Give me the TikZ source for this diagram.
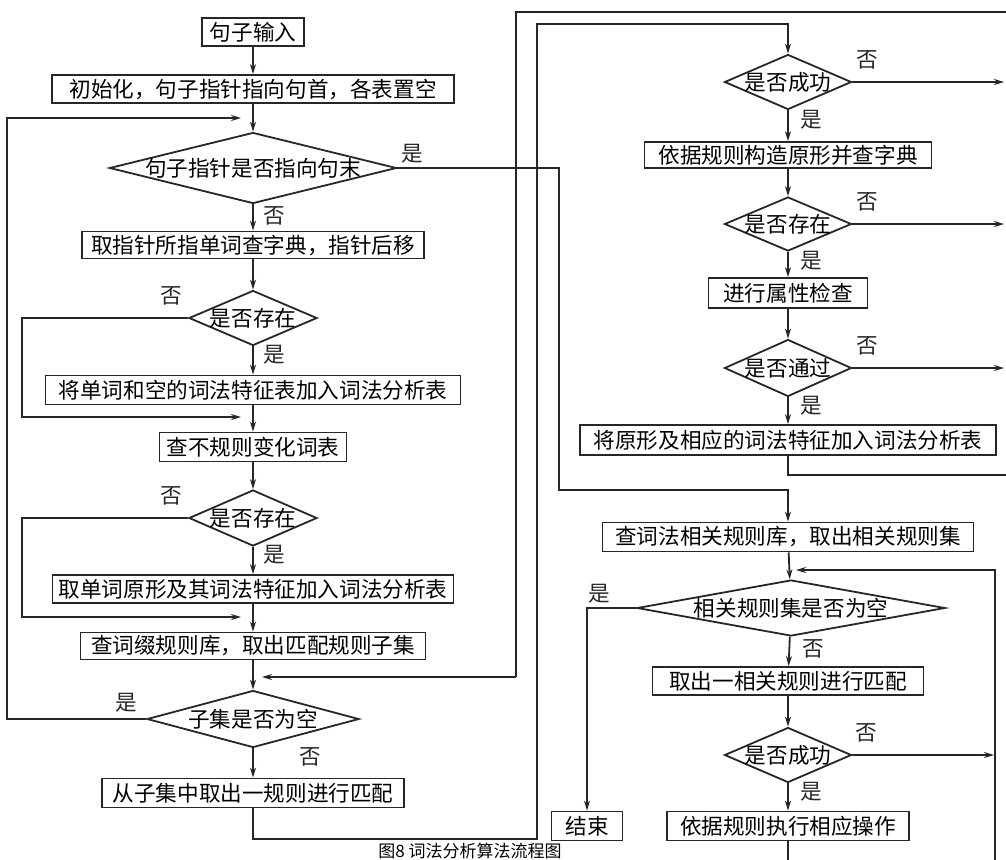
\documentclass[tikz,border=0pt]{standalone}
\usepackage{fontspec}
\setmainfont{Noto Sans CJK SC}
\usetikzlibrary{arrows.meta,shapes.geometric,calc}
\newcommand{\pxu}{0.5pt}
\newcommand{\cjksize}{\fontsize{10.8}{12}\selectfont}

\begin{document}
\begin{tikzpicture}[x=0.5pt,y=-0.5pt,
  box/.style={draw=black!85,line width=0.9pt,inner sep=0pt,minimum height=28*\pxu,font=\cjksize},
  dec/.style={draw=black!85,diamond,line width=0.9pt,inner sep=0pt,font=\cjksize},
  ar/.style={-{Stealth[length=5pt,width=3pt]},line width=0.9pt,black!85},
  ln/.style={line width=0.9pt,black!85},
  lab/.style={font=\cjksize,inner sep=1pt}]
  \useasboundingbox (0,0) rectangle (1006,859);
  \clip (0,0) rectangle (1006,859);
  % linke Spalte
  \node[box,minimum width=102*\pxu] (in) at (253,32) {句子输入};
  \node[box,minimum width=402*\pxu] (init) at (253,89) {初始化，句子指针指向句首，各表置空};
  \node[dec,minimum width=287*\pxu,minimum height=71*\pxu] (d1) at (253,168) {\makebox[0pt]{句子指针是否指向句末}};
  \node[box,minimum width=342*\pxu,minimum height=27*\pxu] (look) at (253,245) {取指针所指单词查字典，指针后移};
  \node[dec,minimum width=128*\pxu,minimum height=55*\pxu] (d2) at (253,318) {\makebox[0pt]{是否存在}};
  \node[box,minimum width=415*\pxu,minimum height=29*\pxu] (addw) at (253,390) {将单词和空的词法特征表加入词法分析表};
  \node[box,minimum width=187*\pxu,minimum height=29*\pxu] (irr) at (253,447) {查不规则变化词表};
  \node[dec,minimum width=128*\pxu,minimum height=56*\pxu] (d3) at (253,518) {\makebox[0pt]{是否存在}};
  \node[box,minimum width=401*\pxu] (addb) at (253,589) {取单词原形及其词法特征加入词法分析表};
  \node[box,minimum width=345*\pxu,minimum height=27*\pxu] (affix) at (253,646) {查词缀规则库，取出匹配规则子集};
  \node[dec,minimum width=212*\pxu,minimum height=57*\pxu] (d4) at (253,719) {\makebox[0pt]{子集是否为空}};
  \node[box,minimum width=302*\pxu,minimum height=29*\pxu] (take) at (253,793) {从子集中取出一规则进行匹配};
  % rechte Spalte
  \node[dec,minimum width=127*\pxu,minimum height=55*\pxu] (r1) at (788,82) {\makebox[0pt]{是否成功}};
  \node[box,minimum width=287*\pxu,minimum height=26*\pxu] (cons) at (788,155) {依据规则构造原形并查字典};
  \node[dec,minimum width=127*\pxu,minimum height=54*\pxu] (r2) at (788,224) {\makebox[0pt]{是否存在}};
  \node[box,minimum width=159*\pxu,minimum height=30*\pxu] (chk) at (788,293) {进行属性检查};
  \node[dec,minimum width=127*\pxu,minimum height=57*\pxu] (r3) at (788,368) {\makebox[0pt]{是否通过}};
  \node[box,minimum width=416*\pxu,minimum height=30*\pxu] (addr) at (788,440) {将原形及相应的词法特征加入词法分析表};
  \node[box,minimum width=371*\pxu,minimum height=29*\pxu] (rel) at (788,537) {查词法相关规则库，取出相关规则集};
  \node[dec,minimum width=308*\pxu,minimum height=56*\pxu] (r4) at (791,608) {\makebox[0pt]{相关规则集是否为空}};
  \node[box,minimum width=271*\pxu] (take2) at (788,681) {取出一相关规则进行匹配};
  \node[dec,minimum width=127*\pxu,minimum height=55*\pxu] (r5) at (788,755) {\makebox[0pt]{是否成功}};
  \node[box,minimum width=242*\pxu,minimum height=29*\pxu] (exec) at (788,826) {依据规则执行相应操作};
  \node[box,minimum width=71*\pxu,minimum height=29*\pxu] (end) at (587,826) {结束};
  \node[font=\fontsize{8.5}{10}\selectfont,inner sep=0pt] (cap) at (470,851) {图8\ 词法分析算法流程图};
  % Hilfspunkte
  \coordinate (j1) at (241,118);
  \coordinate (j2) at (241,417);
  \coordinate (j3) at (241,617);
  \coordinate (j4) at (262,677);
  \coordinate (j5) at (796,570);
  \coordinate (c1) at (559,168);
  \coordinate (c2) at (559,490);
  \coordinate (m1) at (537,839);
  \coordinate (m2) at (537,24);
  \coordinate (f1) at (516,677);
  \coordinate (f2) at (516,12);
  \coordinate (f3) at (1008,12);
  \coordinate (f4) at (1008,475);
  \coordinate (q1) at (1004,82);
  \coordinate (q2) at (1004,224);
  \coordinate (q3) at (1004,368);
  \coordinate (q5) at (994,755);
  \coordinate (b1) at (995,880);
  \coordinate (b2) at (995,570);
  % links
  \draw[ar] (in) -- (init);
  \draw[ar] (init) -- (d1);
  \draw[ar] (d1) -- node[lab,pos=0.45,right=4pt]{否} (look);
  \draw[ar] (d1.east) -- node[lab,pos=0.09,above=1pt]{是} (c1) -- (c2) -| (rel.north);
  \draw[ar] (look) -- (d2);
  \draw[ar] (d2.west) -- node[lab,pos=0.1,above=5pt]{否} ++(-166,0) |- (j2);
  \draw[ar] (d2) -- node[lab,pos=0.3,right=4pt]{是} (addw);
  \draw[ar] (addw) -- (irr);
  \draw[ar] (irr) -- (d3);
  \draw[ar] (d3.west) -- node[lab,pos=0.1,above=5pt]{否} ++(-166,0) |- (j3);
  \draw[ar] (d3) -- node[lab,pos=0.3,right=4pt]{是} (addb);
  \draw[ar] (addb) -- (affix);
  \draw[ar] (affix) -- (d4);
  \draw[ar] (d4.west) -- node[lab,pos=0.14,above=2pt]{是} ++(-139,0) |- (j1);
  \draw[ar] (d4) -- node[lab,pos=0.3,right=22pt]{否} (take);
  \draw[ar] (take) -- (take.south |- m1) -- (m1) -- (m2) -| (r1.north);
  % rechts
  \draw[ar] (r1) -- node[lab,pos=0.3,right=5pt]{是} (cons);
  \draw[ar] (r1.east) -- node[lab,pos=0.1,above=5pt]{否} (q1);
  \draw[ar] (cons) -- (r2);
  \draw[ar] (r2.east) -- node[lab,pos=0.1,above=5pt]{否} (q2);
  \draw[ar] (r2) -- node[lab,pos=0.35,right=5pt]{是} (chk);
  \draw[ar] (chk) -- (r3);
  \draw[ar] (r3.east) -- node[lab,pos=0.1,above=5pt]{否} (q3);
  \draw[ar] (r3) -- node[lab,pos=0.3,right=5pt]{是} (addr);
  \draw[ln] (addr) -- (addr.south |- f4) -- (f4) -- (f3) -- (f2) -- (f1);
  \draw[ar] (f1) -- (j4);
  \draw[ar] (rel) -- (r4);
  \draw[ar] (r4.west) -- node[lab,pos=0.75,above=1pt]{是} (end.north |- r4.west) -- (end);
  \draw[ar] (r4) -- node[lab,pos=0.4,right=5pt]{否} (take2);
  \draw[ar] (take2) -- (r5);
  \draw[ar] (r5.east) -- node[lab,pos=0.1,above=5pt]{否} (q5);
  \draw[ar] (r5) -- node[lab,pos=0.3,right=5pt]{是} (exec);
  \draw[ar] (exec) -- (exec.south |- b1) -- (b1) -- (b2) -- (j5);
\end{tikzpicture}
\end{document}
